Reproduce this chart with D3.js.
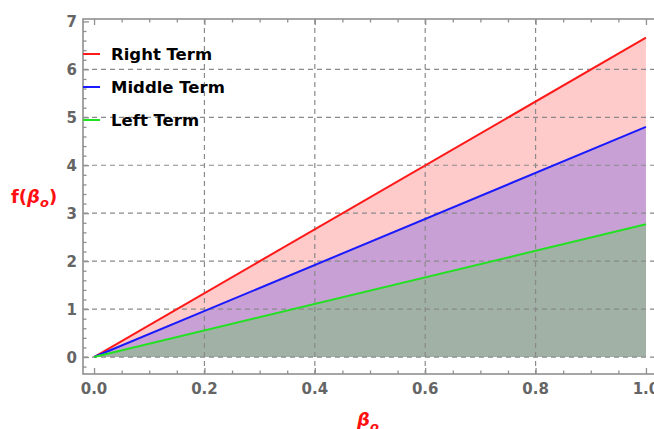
<!DOCTYPE html>
<html><head><meta charset="utf-8">
<script src="https://cdn.jsdelivr.net/npm/d3@7"></script>
<style>body{margin:0;background:#fff}svg{display:block}</style>
</head><body><svg id="c" width="654" height="429"></svg>
<script>
const xValues = [0, 1];
const rightTerm = [0, 6.66];
const middleTerm = [0, 4.80];
const leftTerm = [0, 2.77];
const seriesNames = ["Right Term", "Middle Term", "Left Term"];
const xTicks = [0, 0.2, 0.4, 0.6, 0.8, 1.0];
const yTicks = [0, 1, 2, 3, 4, 5, 6, 7];

const svg = d3.select("#c");
const x = d3.scaleLinear().domain([-0.02, 1.02]).range([83, 657]);
const y = d3.scaleLinear().domain([-0.354, 7.05]).range([374, 19]);

const series = [
  {name: seriesNames[0], vals: rightTerm, stroke: "#ff1a1a", fill: "rgb(255,202,202)"},
  {name: seriesNames[1], vals: middleTerm, stroke: "#1a1aff", fill: "rgb(201,160,213)"},
  {name: seriesNames[2], vals: leftTerm, stroke: "#22e022", fill: "rgb(161,177,165)"}
];

// fills
series.forEach(s => {
  const pts = xValues.map((xv, i) => [xv, s.vals[i]]);
  const area = d3.area().x(d => x(d[0])).y0(y(0)).y1(d => y(d[1]));
  svg.append("path").attr("d", area(pts)).attr("fill", s.fill);
});

// gridlines
const gridColor = "#8a8a8a";
[0.2, 0.4, 0.6, 0.8].forEach(v => {
  svg.append("line").attr("x1", x(v)).attr("x2", x(v)).attr("y1", 19).attr("y2", 374)
    .attr("stroke", gridColor).attr("stroke-width", 1.2).attr("stroke-dasharray", "5,4");
});
[0, 1, 2, 3, 4, 5, 6].forEach(v => {
  svg.append("line").attr("x1", 83).attr("x2", 657).attr("y1", y(v)).attr("y2", y(v))
    .attr("stroke", gridColor).attr("stroke-width", 1.2).attr("stroke-dasharray", "5,4");
});

// lines
series.forEach(s => {
  const pts = xValues.map((xv, i) => [xv, s.vals[i]]);
  svg.append("path").attr("d", d3.line().x(d => x(d[0])).y(d => y(d[1]))(pts))
    .attr("fill", "none").attr("stroke", s.stroke).attr("stroke-width", 2);
});

// frame
const axisColor = "#909090";
svg.append("rect").attr("x", 83).attr("y", 19).attr("width", 574).attr("height", 355)
  .attr("fill", "none").attr("stroke", axisColor).attr("stroke-width", 1.6);

const xMajor = d3.range(0, 1.0001, 0.2);
const xMinor = d3.range(0, 1.0001, 0.05).filter(v => Math.abs(v*5 - Math.round(v*5)) > 1e-6);
const yMinor = d3.range(-0.2, 7.0001, 0.2).filter(v => Math.abs(v - Math.round(v)) > 1e-6);

function tickStyle(g){ g.select(".domain").remove(); g.selectAll("line").attr("stroke", axisColor).attr("stroke-width", 1.3); g.selectAll("text").remove(); }

svg.append("g").attr("transform", "translate(0,374)")
  .call(d3.axisTop(x).tickValues(xMajor).tickSize(6)).call(tickStyle);
svg.append("g").attr("transform", "translate(0,374)")
  .call(d3.axisTop(x).tickValues(xMinor).tickSize(3.5)).call(tickStyle);
svg.append("g").attr("transform", "translate(0,19)")
  .call(d3.axisBottom(x).tickValues(xMajor).tickSize(6)).call(tickStyle);
svg.append("g").attr("transform", "translate(0,19)")
  .call(d3.axisBottom(x).tickValues(xMinor).tickSize(3.5)).call(tickStyle);
svg.append("g").attr("transform", "translate(83,0)")
  .call(d3.axisRight(y).tickValues(yTicks).tickSize(6)).call(tickStyle);
svg.append("g").attr("transform", "translate(83,0)")
  .call(d3.axisRight(y).tickValues(yMinor).tickSize(3.5)).call(tickStyle);

// tick labels
const labelFont = "'DejaVu Sans', sans-serif";
const labColor = "#656565";
svg.selectAll(".xl").data(xTicks).enter().append("text")
  .attr("x", d => x(d)).attr("y", 394).attr("text-anchor", "middle")
  .attr("font-family", labelFont).attr("font-weight", "bold").attr("font-size", 15)
  .attr("fill", labColor).text(d => d3.format(".1f")(d));
svg.selectAll(".yl").data(yTicks).enter().append("text")
  .attr("x", 77).attr("y", d => y(d) + 5.5).attr("text-anchor", "end")
  .attr("font-family", labelFont).attr("font-weight", "bold").attr("font-size", 15)
  .attr("fill", labColor).text(d => d);

// axis titles
const yt = svg.append("text").attr("x", 11).attr("y", 203)
  .attr("font-family", labelFont).attr("font-weight", "bold").attr("font-size", 18).attr("fill", "#ff1010");
yt.append("tspan").text("f(");
yt.append("tspan").attr("font-style", "italic").text("β");
yt.append("tspan").attr("font-style", "italic").attr("font-size", 13).attr("dy", 4).text("o");
yt.append("tspan").attr("dy", -4).text(")");

const xt = svg.append("text").attr("x", 357).attr("y", 426)
  .attr("font-family", labelFont).attr("font-weight", "bold").attr("font-size", 18).attr("fill", "#ff1010");
xt.append("tspan").attr("font-style", "italic").text("β");
xt.append("tspan").attr("font-style", "italic").attr("font-size", 13).attr("dy", 5).text("o");

// legend
const legY = [54, 87, 120];
series.forEach((s, i) => {
  svg.append("line").attr("x1", 83).attr("x2", 100).attr("y1", legY[i]).attr("y2", legY[i])
    .attr("stroke", s.stroke).attr("stroke-width", 2);
  svg.append("text").attr("x", 111).attr("y", legY[i] + 6)
    .attr("font-family", labelFont).attr("font-weight", "bold").attr("font-size", 16.5)
    .attr("fill", "#000").text(s.name);
});
</script></body></html>
